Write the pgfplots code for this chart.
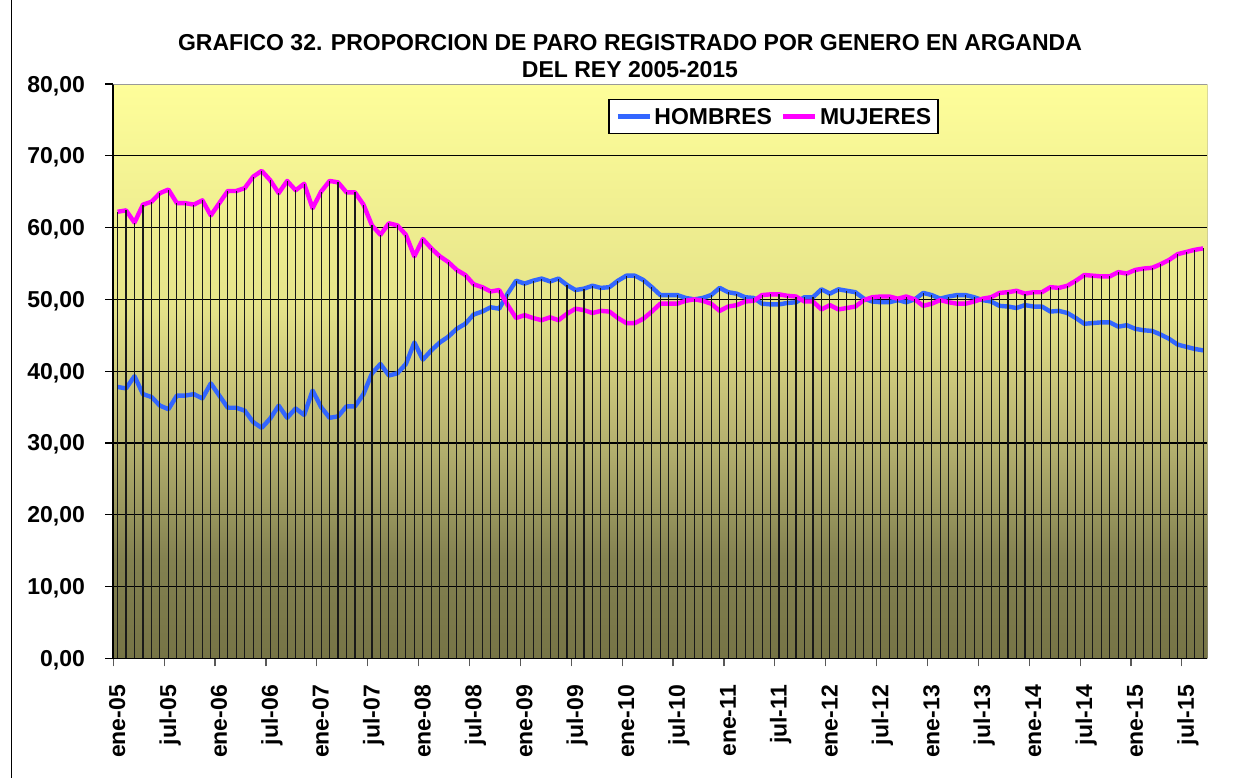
\documentclass[border=0pt]{standalone}
\usepackage{pgfplots}
\pgfplotsset{compat=1.18}
\usepackage{pgfplotstable}
\usepackage{fontspec}
\setmainfont{Liberation Sans}
\definecolor{hblue}{HTML}{3366FF}
\definecolor{mmag}{HTML}{FF00FF}
\definecolor{bgA}{HTML}{767446}
\definecolor{bgB}{HTML}{838150}
\definecolor{bgC}{HTML}{B2AE6D}
\definecolor{bgD}{HTML}{E6E48A}
\definecolor{bgE}{HTML}{FEFE9A}
\pgfdeclareverticalshading{plotbg}{100bp}{color(0bp)=(bgA); color(25bp)=(bgA); color(33.5bp)=(bgB); color(43bp)=(bgC); color(56bp)=(bgD); color(75bp)=(bgE); color(100bp)=(bgE)}
\newcommand\cf{\fontsize{11.5}{13.8}\selectfont\bfseries}
\pgfplotstableread{
i H M
0 37.8 62.2
1 37.6 62.4
2 39.3 60.7
3 36.8 63.2
4 36.4 63.6
5 35.2 64.8
6 34.7 65.3
7 36.6 63.4
8 36.6 63.4
9 36.8 63.2
10 36.2 63.8
11 38.3 61.7
12 36.6 63.4
13 34.9 65.1
14 34.9 65.1
15 34.5 65.5
16 32.9 67.1
17 32.1 67.9
18 33.4 66.6
19 35.2 64.8
20 33.5 66.5
21 34.8 65.2
22 33.9 66.1
23 37.3 62.7
24 35.0 65.0
25 33.5 66.5
26 33.7 66.3
27 35.1 64.9
28 35.1 64.9
29 36.8 63.2
30 39.7 60.3
31 41.0 59.0
32 39.4 60.6
33 39.7 60.3
34 41.0 59.0
35 44.0 56.0
36 41.6 58.4
37 42.9 57.1
38 44.0 56.0
39 44.8 55.2
40 45.9 54.1
41 46.6 53.4
42 47.9 52.1
43 48.3 51.7
44 48.9 51.1
45 48.7 51.3
46 50.8 49.2
47 52.6 47.4
48 52.2 47.8
49 52.6 47.4
50 52.9 47.1
51 52.5 47.5
52 52.9 47.1
53 52.0 48.0
54 51.3 48.7
55 51.5 48.5
56 51.9 48.1
57 51.6 48.4
58 51.7 48.3
59 52.6 47.4
60 53.3 46.7
61 53.3 46.7
62 52.7 47.3
63 51.7 48.3
64 50.6 49.4
65 50.6 49.4
66 50.6 49.4
67 50.2 49.8
68 50.0 50.0
69 50.2 49.8
70 50.6 49.4
71 51.6 48.4
72 51.0 49.0
73 50.8 49.2
74 50.3 49.7
75 50.2 49.8
76 49.4 50.6
77 49.3 50.7
78 49.3 50.7
79 49.5 50.5
80 49.6 50.4
81 50.3 49.7
82 50.3 49.7
83 51.4 48.6
84 50.8 49.2
85 51.4 48.6
86 51.2 48.8
87 51.0 49.0
88 50.1 49.9
89 49.7 50.3
90 49.6 50.4
91 49.6 50.4
92 49.9 50.1
93 49.6 50.4
94 50.0 50.0
95 50.9 49.1
96 50.6 49.4
97 50.1 49.9
98 50.4 49.6
99 50.6 49.4
100 50.6 49.4
101 50.3 49.7
102 49.9 50.1
103 49.7 50.3
104 49.1 50.9
105 49.0 51.0
106 48.8 51.2
107 49.2 50.8
108 49.0 51.0
109 49.0 51.0
110 48.3 51.7
111 48.4 51.6
112 48.1 51.9
113 47.4 52.6
114 46.6 53.4
115 46.7 53.3
116 46.8 53.2
117 46.8 53.2
118 46.2 53.8
119 46.4 53.6
120 45.9 54.1
121 45.7 54.3
122 45.6 54.4
123 45.1 54.9
124 44.5 55.5
125 43.7 56.3
126 43.4 56.6
127 43.1 56.9
128 42.9 57.1
}\datatable
\begin{document}
\begin{tikzpicture}[x=1pt,y=1pt]
\path[use as bounding box] (0,0) rectangle (618,-389);
\draw[black, line width=0.65pt] (5.85,0) -- (5.85,-389);
\node[anchor=base, font=\cf, inner sep=0pt] at (315,-25.15) {GRAFICO 32. PROPORCION DE PARO REGISTRADO POR GENERO EN ARGANDA};
\node[anchor=base, font=\cf, inner sep=0pt] at (315,-38.65) {DEL REY 2005-2015};
\begin{axis}[
  at={(56.65pt,-329.15pt)}, anchor=south west, scale only axis,
  width=547pt, height=287.15pt,
  xmin=-0.5, xmax=128.5, ymin=0, ymax=80,
  axis x line*=bottom, axis y line*=left,
  x axis line style={-, black, line width=0.75pt},
  y axis line style={-, black, line width=1pt},
  axis background/.style={shading=plotbg},
  ytick={0,10,...,70}, extra y ticks={80}, extra y tick style={grid=none},
  ymajorgrids, major grid style={black, line width=0.6pt},
  xtick={-0.5,5.5,...,125.5},
  xticklabels={ene-05,jul-05,ene-06,jul-06,ene-07,jul-07,ene-08,jul-08,ene-09,jul-09,ene-10,jul-10,ene-11,jul-11,ene-12,jul-12,ene-13,jul-13,ene-14,jul-14,ene-15,jul-15},
  tick align=outside, major tick length=4pt,
  xtick style={gray!70!black, line width=0.6pt},
  ytick style={black, line width=0.6pt},
  tick label style={font=\cf},
  yticklabel style={anchor=east, inner sep=0pt, text depth=0pt, xshift=-10pt,
    /pgf/number format/.cd, fixed, fixed zerofill, precision=2, use comma, assume math mode=true},
  xticklabel style={xshift=3.35pt, yshift=-9.2pt, rotate=90, anchor=east, inner sep=0pt, text height=0.72em, text depth=0.2em},
  legend style={at={(0.4525,0.9734)}, anchor=north west, legend columns=2, draw=black, line width=0.6pt, fill=white, font=\cf,
    inner xsep=3.35pt, inner ysep=4.2pt,
    nodes={inner sep=0pt, text height=8.3pt, text depth=0pt},
    /tikz/every odd column/.append style={column sep=1.2pt},
    /tikz/every even column/.append style={column sep=4.6pt}},
  legend image code/.code={\draw[#1, line width=2.2pt] (0pt,0pt) -- (16pt,0pt);},
]
\addplot[hblue, line width=2.2pt, line join=round] table[x=i, y=H] {\datatable};
\addlegendentry{HOMBRES}
\addplot[mmag, line width=2.2pt, line join=round] table[x=i, y=M] {\datatable};
\addlegendentry{MUJERES}
\addplot[ycomb, black!90, line width=0.55pt, forget plot] table[x=i, y expr={max(\thisrow{H},\thisrow{M})}] {\datatable};
\draw[gray!80, line width=0.6pt] (rel axis cs:0,1) -- (rel axis cs:1,1) -- (rel axis cs:1,0);
\end{axis}
\end{tikzpicture}
\end{document}
